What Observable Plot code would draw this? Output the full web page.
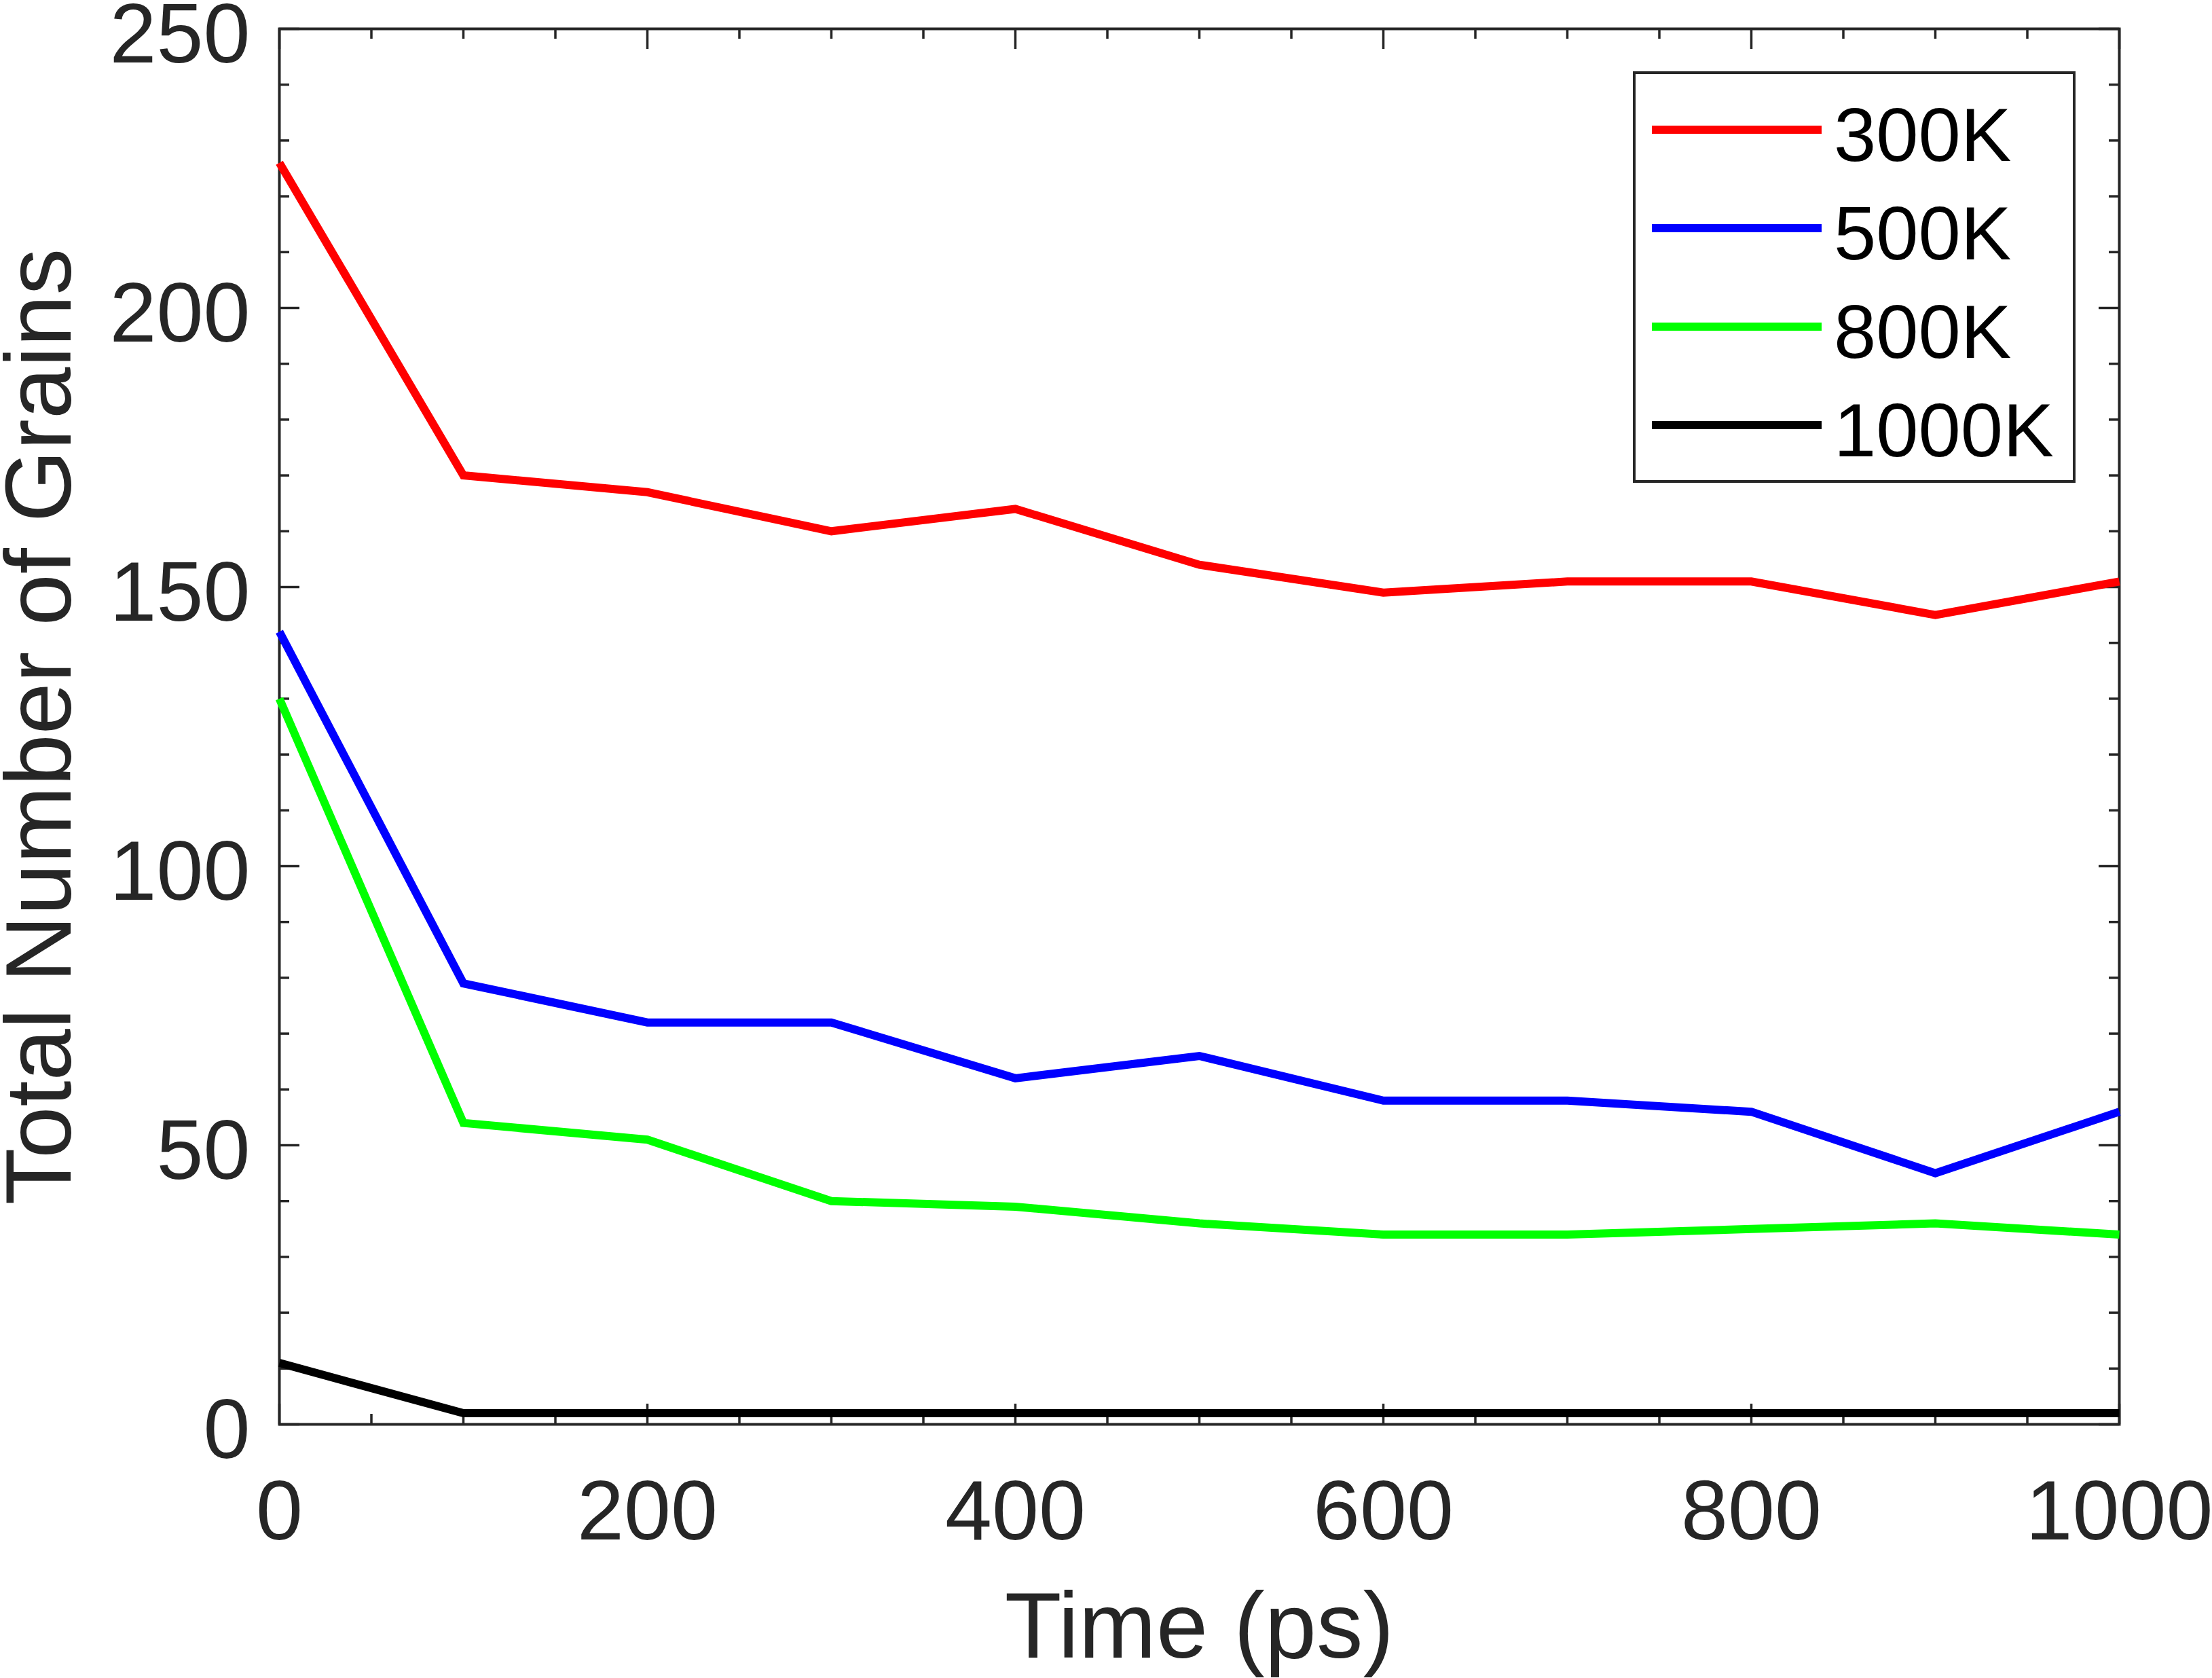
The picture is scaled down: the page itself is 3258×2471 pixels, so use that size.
<!DOCTYPE html>
<html>
<head>
<meta charset="utf-8">
<script src="https://cdn.jsdelivr.net/npm/d3@7"></script>
<script src="https://cdn.jsdelivr.net/npm/@observablehq/plot@0.6"></script>
<style>
html, body { margin: 0; padding: 0; background: #ffffff; overflow: hidden; }
</style>
</head>
<body>
<div id="chart"></div>
<script>
// ---- data ----
const times = [0, 100, 200, 300, 400, 500, 600, 700, 800, 900, 1000];
const seriesNames = ["300K", "500K", "800K", "1000K"];
const seriesColors = ["#ff0000", "#0000ff", "#00ff00", "#000000"];
const grains300K  = [226, 170, 167, 160, 164, 154, 149, 151, 151, 145, 151];
const grains500K  = [142, 79, 72, 72, 62, 66, 58, 58, 56, 45, 56];
const grains800K  = [130, 54, 51, 40, 39, 36, 34, 34, 35, 36, 34];
const grains1000K = [11, 2, 2, 2, 2, 2, 2, 2, 2, 2, 2];
const xMajorTicks = [0, 200, 400, 600, 800, 1000];
const xMinorTicks = [50, 100, 150, 250, 300, 350, 450, 500, 550, 650, 700, 750, 850, 900, 950];
const yMajorTicks = [0, 50, 100, 150, 200, 250];
const yMinorTicks = [10, 20, 30, 40, 60, 70, 80, 90, 110, 120, 130, 140, 160, 170, 180, 190, 210, 220, 230, 240];
const xTitle = "Time (ps)";
const yTitle = "Total Number of Grains";

// ---- table built from the arrays ----
const allSeries = [grains300K, grains500K, grains800K, grains1000K];
const rows = [];
allSeries.forEach((vals, i) => {
  vals.forEach((v, j) => rows.push({series: seriesNames[i], time: times[j], grains: v}));
});

// ---- layout ----
const W = 3258, H = 2471;
const mL = 411, mT = 42, mR = 137, mB = 374;
const innerW = W - mL - mR, innerH = H - mT - mB;
const axisColor = "#262626";
const majorLen = 30, minorLen = 15, tickW = 3.5;
const fontFamily = "'Liberation Sans', Arial, sans-serif";

const chart = Plot.plot({
  width: W,
  height: H,
  marginLeft: mL, marginTop: mT, marginRight: mR, marginBottom: mB,
  style: {fontFamily: fontFamily, background: "#ffffff", overflow: "visible"},
  x: {domain: [0, 1000]},
  y: {domain: [0, 250]},
  color: {domain: seriesNames, range: seriesColors},
  marks: [
    Plot.frame({stroke: axisColor, strokeWidth: 4}),
    // bottom & top ticks (inward)
    Plot.tickX(xMajorTicks, {x: d => d, insetTop: innerH - majorLen, stroke: axisColor, strokeWidth: tickW}),
    Plot.tickX(xMajorTicks, {x: d => d, insetBottom: innerH - majorLen, stroke: axisColor, strokeWidth: tickW}),
    Plot.tickX(xMinorTicks, {x: d => d, insetTop: innerH - minorLen, stroke: axisColor, strokeWidth: tickW}),
    Plot.tickX(xMinorTicks, {x: d => d, insetBottom: innerH - minorLen, stroke: axisColor, strokeWidth: tickW}),
    // left & right ticks (inward)
    Plot.tickY(yMajorTicks, {y: d => d, insetRight: innerW - majorLen, stroke: axisColor, strokeWidth: tickW}),
    Plot.tickY(yMajorTicks, {y: d => d, insetLeft: innerW - majorLen, stroke: axisColor, strokeWidth: tickW}),
    Plot.tickY(yMinorTicks, {y: d => d, insetRight: innerW - minorLen, stroke: axisColor, strokeWidth: tickW}),
    Plot.tickY(yMinorTicks, {y: d => d, insetLeft: innerW - minorLen, stroke: axisColor, strokeWidth: tickW}),
    // data lines
    Plot.line(rows, {
      x: "time", y: "grains", z: "series", stroke: "series",
      strokeWidth: 12, strokeLinecap: "butt", strokeLinejoin: "miter", strokeMiterlimit: 4
    }),
    // tick labels
    Plot.axisX({ticks: xMajorTicks, tickSize: 0, tickPadding: 81, fontSize: 124, color: axisColor, tickFormat: d3.format("d"), label: null}),
    Plot.axisY({ticks: yMajorTicks, tickSize: 0, tickPadding: 43, fontSize: 124, color: axisColor, tickFormat: d3.format("d"), dy: 10, label: null}),
    // axis titles
    Plot.text([xTitle], {text: d => d, frameAnchor: "bottom", textAnchor: "middle", lineAnchor: "bottom", dy: 343, fontSize: 137, fill: axisColor}),
    Plot.text([yTitle], {text: d => d, frameAnchor: "left", textAnchor: "middle", lineAnchor: "bottom", rotate: -90, dx: -308, fontSize: 137, fill: axisColor})
  ]
});

document.getElementById("chart").appendChild(chart);

// ---- legend (inside the plot frame, top-right) ----
const xr = chart.scale("x").range[1];
const yt = chart.scale("y").range[1];
const svg = d3.select(chart);
const lg = svg.append("g").attr("class", "legend");
lg.append("rect")
  .attr("x", xr - 714).attr("y", yt + 65)
  .attr("width", 648).attr("height", 602)
  .attr("fill", "#ffffff").attr("stroke", axisColor).attr("stroke-width", 4);
seriesNames.forEach((name, i) => {
  const cy = yt + 149 + 145 * i;
  lg.append("line")
    .attr("x1", xr - 688).attr("x2", xr - 438)
    .attr("y1", cy).attr("y2", cy)
    .attr("stroke", seriesColors[i]).attr("stroke-width", 12);
  lg.append("text")
    .attr("x", xr - 420).attr("y", cy + 46)
    .attr("text-anchor", "start")
    .attr("fill", "#000000")
    .attr("font-size", 112)
    .attr("font-family", fontFamily)
    .text(name);
});
</script>
</body>
</html>
